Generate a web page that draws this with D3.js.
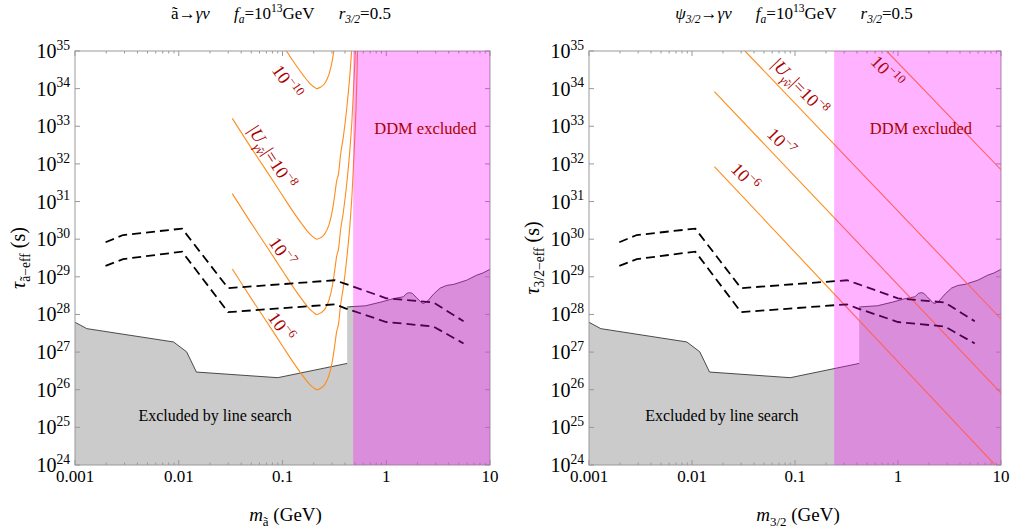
<!DOCTYPE html>
<html>
<head>
<meta charset="utf-8">
<script src="https://cdnjs.cloudflare.com/ajax/libs/d3/7.8.5/d3.min.js"></script>
<style>
  body { margin: 0; background: #fff; }
  svg { font-family: "Liberation Serif", "DejaVu Serif", serif; }
</style>
</head>
<body>
<script>
"use strict";

// ---- data: mass in GeV, lifetime in s ----
const xTicks = [0.001, 0.01, 0.1, 1, 10]
const xTickLabels = ["0.001", "0.01", "0.1", "1", "10"]
const yTicks = [1e24, 1e25, 1e26, 1e27, 1e28, 1e29, 1e30, 1e31, 1e32, 1e33, 1e34, 1e35]
const yTickExps = ["24", "25", "26", "27", "28", "29", "30", "31", "32", "33", "34", "35"]

// grey region: line search bound, then the DDM bound above 0.42 GeV
const lineSearch = [[0.001, 6.2e27], [0.0013, 4.2e27], [0.0089, 1.86e27], [0.0119, 1.02e27],
    [0.0148, 2.95e26], [0.090, 2.09e26], [0.42, 5.0e26]]
const ddmLimit = [[0.42, 1.58e28], [0.479, 1.62e28], [0.631, 1.70e28], [0.891, 2.14e28],
    [1.17, 2.63e28], [1.46, 2.95e28], [1.58, 3.63e28], [1.68, 3.80e28], [1.78, 3.63e28],
    [1.94, 2.88e28], [2.19, 2.04e28], [2.28, 1.95e28], [2.51, 2.29e28], [2.88, 3.55e28],
    [3.31, 5.01e28], [3.80, 5.89e28], [4.47, 6.31e28], [5.96, 8.13e28], [7.41, 1.10e29],
    [8.51, 1.26e29], [10, 1.58e29]]

// dashed sensitivity curves
const dashUpper = [[0.00197, 8.3e29], [0.00291, 1.29e30], [0.01076, 1.91e30], [0.0299, 5.0e28],
    [0.319, 8.1e28], [0.398, 6.6e28], [1.0, 2.69e28], [2.84, 2.09e28], [5.56, 6.6e27]]
const dashLower = [[0.00197, 1.95e29], [0.00291, 2.95e29], [0.01076, 4.68e29], [0.0299, 1.15e28],
    [0.319, 1.86e28], [0.398, 1.48e28], [1.0, 6.3e27], [2.84, 4.79e27], [5.56, 1.70e27]]

// axino -> gamma nu lifetimes
const axinoMass = [0.0328, 0.0501, 0.0676, 0.100, 0.126, 0.158, 0.182, 0.200, 0.214, 0.234,
    0.257, 0.282, 0.302, 0.316, 0.333, 0.347, 0.363, 0.385, 0.417, 0.447, 0.468, 0.490,
    0.513, 0.525, 0.537]
const axinoTauU10 = [1.62e37, 2.63e36, 7.59e35, 1.45e35, 5.50e34, 2.29e34, 1.41e34, 1.12e34,
    1.00e34, 1.10e34, 1.41e34, 2.51e34, 5.62e34, 1.26e35, 3.55e35, 5.62e35, 1.78e36, 5.01e36,
    3.16e37, 2.51e38, 1.58e39, 2.00e40, 3.98e41, 3.98e42, 1.00e44]
const axinoTauU8 = [1.62e33, 2.63e32, 7.59e31, 1.45e31, 5.50e30, 2.29e30, 1.41e30, 1.12e30,
    1.00e30, 1.10e30, 1.41e30, 2.51e30, 5.62e30, 1.26e31, 3.55e31, 5.62e31, 1.78e32, 5.01e32,
    3.16e33, 2.51e34, 1.58e35, 2.00e36, 3.98e37, 3.98e38, 1.00e40]
const axinoTauU7 = [1.62e31, 2.63e30, 7.59e29, 1.45e29, 5.50e28, 2.29e28, 1.41e28, 1.12e28,
    1.00e28, 1.10e28, 1.41e28, 2.51e28, 5.62e28, 1.26e29, 3.55e29, 5.62e29, 1.78e30, 5.01e30,
    3.16e31, 2.51e32, 1.58e33, 2.00e34, 3.98e35, 3.98e36, 1.00e38]
const axinoTauU6 = [1.62e29, 2.63e28, 7.59e27, 1.45e27, 5.50e26, 2.29e26, 1.41e26, 1.12e26,
    1.00e26, 1.10e26, 1.41e26, 2.51e26, 5.62e26, 1.26e27, 3.55e27, 5.62e27, 1.78e28, 5.01e28,
    3.16e29, 2.51e30, 1.58e31, 2.00e32, 3.98e33, 3.98e34, 1.00e36]

// gravitino -> gamma nu lifetimes (straight lines, end points)
const gravMassU10 = [0.776, 10], gravTauU10 = [1e35, 7.0e31]
const gravMassU8 = [0.0327, 10], gravTauU8 = [1e35, 7.6e27]
const gravMassU7 = [0.0165, 10], gravTauU7 = [8.3e33, 8.1e25]
const gravMassU6 = [0.0165, 8.75], gravTauU6 = [8.5e31, 1e24]

// DDM excluded above these masses
const ddmMassAxino = 0.48
const ddmMassGrav = 0.24

const measurements = { width: 1013, height: 531, top: 51, bottom: 465 }
const red = "#aa0000"
const orange = "#ff8c1a"

const svg = d3.select("body").append("svg")
    .attr("width", measurements.width)
    .attr("height", measurements.height)

// text with sub/superscripts
function rich(sel, parts, size) {
    let shift = 0
    parts.forEach((p) => {
        const k = p.k || ""
        let target = 0, fs = size
        if (k.includes("sup")) { target = -0.42 * size; fs = size * 0.68 }
        if (k.includes("sub")) { target = 0.26 * size; fs = size * 0.68 }
        const ts = sel.append("tspan").text(p.t)
            .attr("font-size", fs)
            .attr("dy", target - shift)
        if (p.dx) ts.attr("dx", p.dx)
        if (k.includes("i")) ts.attr("font-style", "italic")
        shift = target
    })
}

function pow10Label(e) { return [{ t: "10" }, { t: e, k: "sup" }] }

function drawPanel(cfg, id) {
    const x = d3.scaleLog().domain([0.001, 10]).range([cfg.x0, cfg.x1])
    const y = d3.scaleLog().domain([1e24, 1e35]).range([measurements.bottom, measurements.top])
    const g = svg.append("g")

    g.append("clipPath").attr("id", "clip" + id)
        .append("rect")
        .attr("x", cfg.x0).attr("y", measurements.top)
        .attr("width", cfg.x1 - cfg.x0).attr("height", measurements.bottom - measurements.top)
    const plot = g.append("g").attr("clip-path", `url(#clip${id})`)

    // grey excluded area
    const bound = lineSearch.concat(ddmLimit)
    plot.append("path")
        .datum(bound)
        .attr("d", d3.area().x(d => x(d[0])).y0(measurements.bottom).y1(d => y(d[1])))
        .attr("fill", "#cbcbcb")
    const line = d3.line().x(d => x(d[0])).y(d => y(d[1]))
    ;[lineSearch, ddmLimit].forEach(b => {
        plot.append("path").datum(b).attr("d", line)
            .attr("fill", "none").attr("stroke", "#222").attr("stroke-width", 0.8)
    })

    // lifetime curves
    cfg.curves.forEach(c => {
        const pts = c.m.map((m, i) => [m, c.tau[i]])
        plot.append("path").datum(pts).attr("d", line.curve(d3.curveMonotoneX))
            .attr("fill", "none").attr("stroke", orange).attr("stroke-width", 1.1)
        line.curve(d3.curveLinear)
    })

    // dashed curves
    ;[dashUpper, dashLower].forEach(b => {
        plot.append("path").datum(b).attr("d", line)
            .attr("fill", "none").attr("stroke", "#000").attr("stroke-width", 1.8)
            .attr("stroke-dasharray", "9,5")
    })

    // frame and ticks
    const frame = g.append("g").attr("stroke", "#999").attr("stroke-width", 1)
    frame.append("rect")
        .attr("x", cfg.x0).attr("y", measurements.top)
        .attr("width", cfg.x1 - cfg.x0).attr("height", measurements.bottom - measurements.top)
        .attr("fill", "none")
    const xt = x.ticks()
    const isMajor = v => Math.abs(Math.log10(v) - Math.round(Math.log10(v))) < 1e-6
    frame.selectAll(".xtb").data(xt).enter().append("line")
        .attr("x1", d => x(d)).attr("x2", d => x(d))
        .attr("y1", measurements.bottom).attr("y2", d => measurements.bottom - (isMajor(d) ? 5 : 2.5))
    frame.selectAll(".xtt").data(xt).enter().append("line")
        .attr("x1", d => x(d)).attr("x2", d => x(d))
        .attr("y1", measurements.top).attr("y2", d => measurements.top + (isMajor(d) ? 5 : 2.5))
    frame.selectAll(".ytl").data(yTicks).enter().append("line")
        .attr("x1", cfg.x0).attr("x2", cfg.x0 + 5)
        .attr("y1", d => y(d)).attr("y2", d => y(d))
    frame.selectAll(".ytr").data(yTicks).enter().append("line")
        .attr("x1", cfg.x1).attr("x2", cfg.x1 - 5)
        .attr("y1", d => y(d)).attr("y2", d => y(d))

    // DDM excluded band
    g.append("rect")
        .attr("x", x(cfg.ddmMass)).attr("y", measurements.top)
        .attr("width", x(10) - x(cfg.ddmMass)).attr("height", measurements.bottom - measurements.top)
        .attr("fill", "rgb(255,0,255)").attr("fill-opacity", 0.3)

    // tick labels
    xTicks.forEach((v, i) => {
        g.append("text").attr("x", x(v)).attr("y", 482)
            .attr("text-anchor", "middle").attr("font-size", 17).text(xTickLabels[i])
    })
    yTicks.forEach((v, i) => {
        const t = g.append("text").attr("x", cfg.x0 - 5).attr("y", y(v) + 7)
            .attr("text-anchor", "end")
        rich(t, pow10Label(yTickExps[i]), 20)
    })

    // curve labels
    cfg.labels.forEach(l => {
        const t = g.append("text")
            .attr("transform", `translate(${x(l.m)},${y(l.tau)}) rotate(${l.angle})`)
            .attr("y", 6).attr("text-anchor", "middle").attr("fill", red)
        rich(t, l.parts, 18)
    })

    g.append("text").attr("x", x(cfg.ddmText[0])).attr("y", y(cfg.ddmText[1]))
        .attr("text-anchor", "middle").attr("font-size", 16.5).attr("fill", red)
        .text("DDM excluded")
    g.append("text").attr("x", x(cfg.lineText[0])).attr("y", y(cfg.lineText[1]))
        .attr("text-anchor", "middle").attr("font-size", 16)
        .text("Excluded by line search")

    // titles
    const title = g.append("text").attr("x", cfg.titleX).attr("y", 19).attr("text-anchor", "middle")
    rich(title, cfg.title, 17)
    const xl = g.append("text").attr("x", (cfg.x0 + cfg.x1) / 2 + 3).attr("y", 521).attr("text-anchor", "middle")
    rich(xl, cfg.xlabel, 19)
    const yl = g.append("text")
        .attr("transform", `translate(${cfg.x0 - 50},${(measurements.top + measurements.bottom) / 2}) rotate(-90)`)
        .attr("text-anchor", "middle")
    rich(yl, cfg.ylabel, 20)
}

const uLabel = [{ t: "|" }, { t: "U", k: "i" }, { t: "\u03b3\u0303\u03bd", k: "isub" }, { t: "|=10" }, { t: "\u22128", k: "sup" }]

drawPanel({
    x0: 75, x1: 490, ddmMass: ddmMassAxino, titleX: 281,
    curves: [
        { m: axinoMass, tau: axinoTauU10 },
        { m: axinoMass, tau: axinoTauU8 },
        { m: axinoMass, tau: axinoTauU7 },
        { m: axinoMass, tau: axinoTauU6 }
    ],
    labels: [
        { m: 0.110, tau: 1.5e34, angle: 55, parts: [{ t: "10" }, { t: "\u221210", k: "sup" }] },
        { m: 0.0792, tau: 1.5e32, angle: 57, parts: uLabel },
        { m: 0.0989, tau: 4.6e29, angle: 55, parts: [{ t: "10" }, { t: "\u22127", k: "sup" }] },
        { m: 0.0968, tau: 4.7e27, angle: 55, parts: [{ t: "10" }, { t: "\u22126", k: "sup" }] }
    ],
    ddmText: [2.38, 6.2e32], lineText: [0.0224, 1.5e25],
    title: [{ t: "\u00e3\u2192" }, { t: "\u03b3\u03bd", k: "i" }, { t: "f", k: "i", dx: 24 }, { t: "a", k: "isub" },
        { t: "=10" }, { t: "13", k: "sup" }, { t: "GeV" }, { t: "r", k: "i", dx: 24 }, { t: "3/2", k: "isub" }, { t: "=0.5" }],
    xlabel: [{ t: "m", k: "i" }, { t: "\u00e3", k: "sub" }, { t: " (GeV)" }],
    ylabel: [{ t: "\u03c4", k: "i" }, { t: "\u00e3\u2212eff", k: "sub" }, { t: " (s)" }]
}, 1)

drawPanel({
    x0: 589, x1: 1001, ddmMass: ddmMassGrav, titleX: 794,
    curves: [
        { m: gravMassU10, tau: gravTauU10 },
        { m: gravMassU8, tau: gravTauU8 },
        { m: gravMassU7, tau: gravTauU7 },
        { m: gravMassU6, tau: gravTauU6 }
    ],
    labels: [
        { m: 0.112, tau: 1.1e34, angle: 46, parts: uLabel },
        { m: 0.78, tau: 2.8e34, angle: 46, parts: [{ t: "10" }, { t: "\u221210", k: "sup" }] },
        { m: 0.0731, tau: 3.8e32, angle: 46, parts: [{ t: "10" }, { t: "\u22127", k: "sup" }] },
        { m: 0.0327, tau: 4.5e31, angle: 46, parts: [{ t: "10" }, { t: "\u22126", k: "sup" }] }
    ],
    ddmText: [1.67, 6.2e32], lineText: [0.0195, 1.5e25],
    title: [{ t: "\u03c8", k: "i" }, { t: "3/2", k: "isub" }, { t: "\u2192" }, { t: "\u03b3\u03bd", k: "i" },
        { t: "f", k: "i", dx: 24 }, { t: "a", k: "isub" }, { t: "=10" }, { t: "13", k: "sup" }, { t: "GeV" },
        { t: "r", k: "i", dx: 24 }, { t: "3/2", k: "isub" }, { t: "=0.5" }],
    xlabel: [{ t: "m", k: "i" }, { t: "3/2", k: "sub" }, { t: " (GeV)" }],
    ylabel: [{ t: "\u03c4", k: "i" }, { t: "3/2\u2212eff", k: "sub" }, { t: " (s)" }]
}, 2)
</script>
</body>
</html>
